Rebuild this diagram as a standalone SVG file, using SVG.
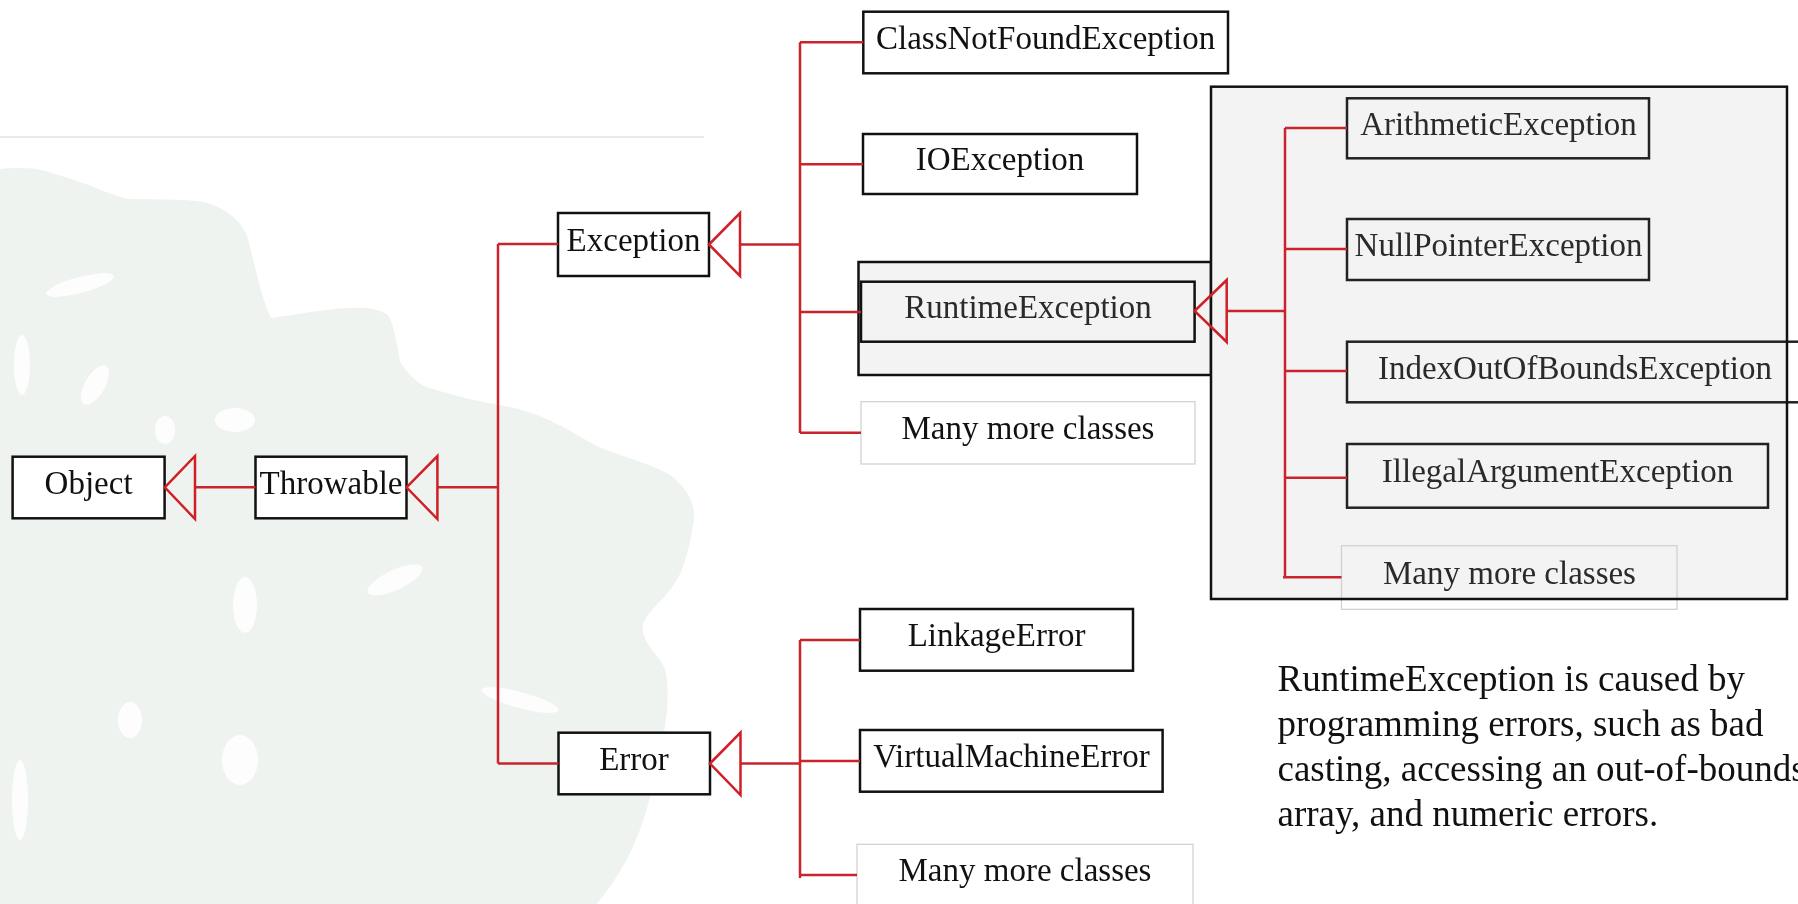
<svg xmlns="http://www.w3.org/2000/svg" width="1798" height="904" viewBox="0 0 1798 904">
<style>
.box{fill:#ffffff;stroke:#111;stroke-width:2.5}
.gbox{fill:#f3f3f3;stroke:#111;stroke-width:2.5}
.ibox{fill:none;stroke:#222;stroke-width:2.5}
.mbox{fill:#ffffff;stroke:#cfcfcf;stroke-width:1.2}
.mboxi{fill:none;stroke:#cfcfcf;stroke-width:1.2}
.lbl{font-family:"Liberation Serif","Times New Roman",serif;font-size:33px;fill:#111;text-anchor:middle}
.lbli{fill:#2a2a2a}
.para{font-family:"Liberation Serif","Times New Roman",serif;font-size:37px;fill:#111}
.con{stroke:#c9232b;stroke-width:2.5;fill:none}
.tri{stroke:#d01f26;stroke-width:2.5;fill:none;stroke-linejoin:miter}
</style>
<rect x="0" y="0" width="1798" height="904" fill="#ffffff"/>
<g id="watermark" fill="#eef3ef">
<path d="M0,169 C30,166 45,170 55,174 C85,182 110,195 128,199 C160,200 190,198 211,204 C232,212 244,225 248,239 C256,270 262,300 271,318 C300,314 340,306 367,308 C380,310 388,313 390,318 C396,335 398,350 400,362 C410,376 418,384 427,387 C460,398 485,402 505,406 C525,410 540,416 551,421 C570,430 585,440 597,446 C625,458 655,465 670,475 C690,490 697,508 693,525 C690,545 686,560 680,574 C668,598 648,610 643,624 C640,645 662,655 666,673 C670,700 666,725 661,747 C656,775 650,800 643,821 C630,860 612,885 597,904 L0,904 Z"/>
<g fill="#ffffff" opacity="0.85">
<ellipse cx="80" cy="285" rx="35" ry="8" transform="rotate(-15 80 285)"/>
<ellipse cx="22" cy="365" rx="8" ry="30"/>
<ellipse cx="95" cy="385" rx="10" ry="22" transform="rotate(30 95 385)"/>
<ellipse cx="235" cy="420" rx="20" ry="12"/>
<ellipse cx="165" cy="430" rx="10" ry="14"/>
<ellipse cx="245" cy="605" rx="12" ry="28"/>
<ellipse cx="395" cy="580" rx="30" ry="10" transform="rotate(-25 395 580)"/>
<ellipse cx="130" cy="720" rx="12" ry="18"/>
<ellipse cx="240" cy="760" rx="18" ry="25"/>
<ellipse cx="520" cy="700" rx="40" ry="8" transform="rotate(15 520 700)"/>
<ellipse cx="20" cy="800" rx="8" ry="40"/>
</g>
</g>
<line x1="0" y1="137" x2="704" y2="137" stroke="#e3e3e3" stroke-width="1.5"/>

<g id="runtime-group-bg">
<rect id="rt-outer" class="gbox" x="858.5" y="262" width="352.5" height="113"/>
<rect id="big-box-fill" x="1211" y="86.7" width="576" height="512.3" fill="#f3f3f3" stroke="none"/>
</g>

<g id="node-object"><rect class="box" x="12.6" y="456.7" width="152" height="61.6"/><text class="lbl" x="88.6" y="493.5">Object</text></g>
<g id="node-throwable"><rect class="box" x="255.5" y="456.7" width="151" height="61.6"/><text class="lbl" x="331" y="493.5">Throwable</text></g>
<g id="node-exception"><rect class="box" x="558" y="213" width="151" height="63"/><text class="lbl" x="633.5" y="250.5">Exception</text></g>
<g id="node-error"><rect class="box" x="558.5" y="732.7" width="151.5" height="61.6"/><text class="lbl" x="634" y="769.5">Error</text></g>
<g id="node-classnotfound"><rect class="box" x="863.3" y="11.7" width="364.7" height="61.6"/><text class="lbl" x="1045.6" y="48.5">ClassNotFoundException</text></g>
<g id="node-ioexception"><rect class="box" x="863" y="134" width="274" height="60"/><text class="lbl" x="1000" y="170">IOException</text></g>
<g id="node-runtime"><rect class="gbox" x="861" y="281.7" width="333.6" height="60"/><text class="lbl lbli" x="1028" y="318">RuntimeException</text></g>
<g id="node-many1"><rect class="mbox" x="861" y="401.7" width="334" height="62.3"/><text class="lbl" x="1028" y="439">Many more classes</text></g>
<g id="node-linkage"><rect class="box" x="860" y="609" width="273" height="61.7"/><text class="lbl" x="996.5" y="646">LinkageError</text></g>
<g id="node-vme"><rect class="box" x="860" y="730" width="302.6" height="61.7"/><text class="lbl" x="1011.5" y="767">VirtualMachineError</text></g>
<g id="node-many2"><rect class="mbox" x="857" y="844.3" width="336" height="70"/><text class="lbl" x="1025" y="881">Many more classes</text></g>
<g id="node-arithmetic"><rect class="ibox" x="1347" y="98.3" width="302" height="60"/><text class="lbl lbli" x="1498.5" y="135">ArithmeticException</text></g>
<g id="node-nullpointer"><rect class="ibox" x="1347" y="219" width="302" height="61"/><text class="lbl lbli" x="1498.5" y="256">NullPointerException</text></g>
<g id="node-index"><rect class="ibox" x="1347" y="341.7" width="470" height="60.6"/><text class="lbl lbli" x="1575" y="378.5">IndexOutOfBoundsException</text></g>
<g id="node-illegal"><rect class="ibox" x="1347" y="444" width="421" height="63.7"/><text class="lbl lbli" x="1557.5" y="482">IllegalArgumentException</text></g>
<g id="node-many3"><rect class="mboxi" x="1341.5" y="545.7" width="335.5" height="63.6"/><text class="lbl lbli" x="1509.5" y="583.5">Many more classes</text></g>
<rect id="big-box-border" x="1211" y="86.7" width="576" height="512.3" fill="none" stroke="#111" stroke-width="2.5"/>

<g id="connectors">
<polygon class="tri" points="164.8,487.3 195,456 195,519"/>
<line class="con" x1="195" y1="487.3" x2="255.5" y2="487.3"/>
<polygon class="tri" points="406.5,487.3 437.4,456 437.4,519"/>
<line class="con" x1="437.4" y1="487.3" x2="498" y2="487.3"/>
<line class="con" x1="498" y1="244" x2="498" y2="763.5"/>
<line class="con" x1="498" y1="244" x2="558" y2="244"/>
<line class="con" x1="498" y1="763.5" x2="558.5" y2="763.5"/>

<polygon class="tri" points="709,244.5 740,213 740,276"/>
<line class="con" x1="740" y1="244.5" x2="800" y2="244.5"/>
<line class="con" x1="800" y1="42.3" x2="800" y2="433"/>
<line class="con" x1="800" y1="42.3" x2="863.3" y2="42.3"/>
<line class="con" x1="800" y1="164.3" x2="863" y2="164.3"/>
<line class="con" x1="800" y1="312" x2="861" y2="312"/>
<line class="con" x1="800" y1="432.7" x2="861" y2="432.7"/>

<polygon class="tri" points="710,763.5 740.5,732.5 740.5,795"/>
<line class="con" x1="740.5" y1="763.5" x2="800" y2="763.5"/>
<line class="con" x1="800" y1="640" x2="800" y2="878"/>
<line class="con" x1="800" y1="640" x2="860" y2="640"/>
<line class="con" x1="800" y1="761" x2="860" y2="761"/>
<line class="con" x1="800" y1="875" x2="857" y2="875"/>

<polygon class="tri" points="1194.6,311 1226.7,280 1226.7,342"/>
<line class="con" x1="1226.7" y1="311" x2="1285" y2="311"/>
<line class="con" x1="1285" y1="128" x2="1285" y2="577.3"/>
<line class="con" x1="1285" y1="128" x2="1347" y2="128"/>
<line class="con" x1="1285" y1="249" x2="1347" y2="249"/>
<line class="con" x1="1285" y1="371" x2="1347" y2="371"/>
<line class="con" x1="1285" y1="477.7" x2="1347" y2="477.7"/>
<line class="con" x1="1283" y1="577.3" x2="1341.5" y2="577.3"/>
</g>

<g id="note">
<text class="para" x="1277.5" y="691">RuntimeException is caused by</text>
<text class="para" x="1277.5" y="736">programming errors, such as bad</text>
<text class="para" x="1277.5" y="781">casting, accessing an out-of-bounds</text>
<text class="para" x="1277.5" y="826">array, and numeric errors.</text>
</g>
</svg>
